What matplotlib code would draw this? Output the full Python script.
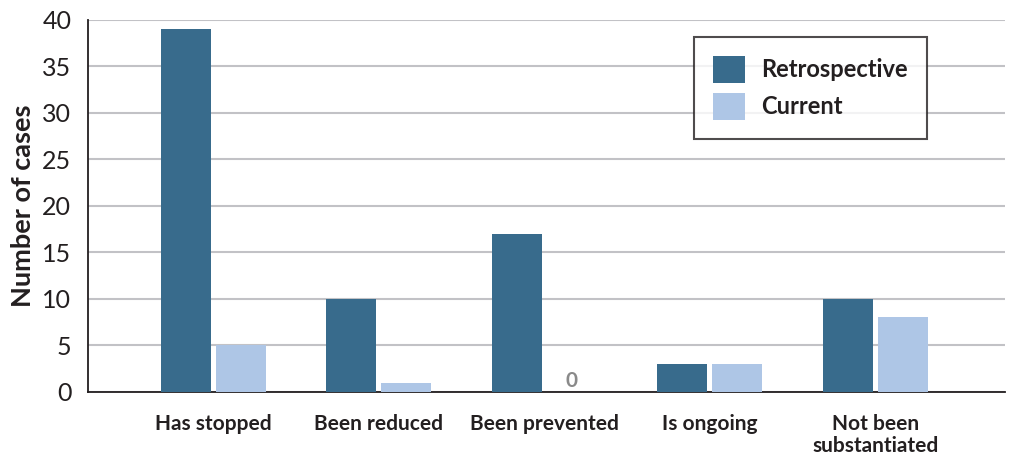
import matplotlib.pyplot as plt
import numpy as np

plt.rcParams['font.family'] = ['Lato', 'DejaVu Sans']

categories = ["Has stopped", "Been reduced", "Been prevented", "Is ongoing", "Not been\nsubstantiated"]
retrospective = [39, 10, 17, 3, 10]
current = [5, 1, 0, 3, 8]
yticks = [0, 5, 10, 15, 20, 25, 30, 35, 40]

retro_color = "#386b8c"
current_color = "#aec6e6"
dark = "#231f20"

fig = plt.figure(figsize=(10.15, 4.59), dpi=100)
ax = fig.add_axes([0.0867, 0.146, 0.903, 0.8115])

x = np.arange(len(categories))
w = 0.302
off = 0.166
ax.bar(x - off, retrospective, w, color=retro_color, label="Retrospective", zorder=3)
ax.bar(x + off, current, w, color=current_color, label="Current", zorder=3)

# zero-valued bar gets a gray value label
for xi, v in zip(x, current):
    if v == 0:
        ax.text(xi + off, 1.2, "0", ha="center", va="center", fontsize=15,
                fontweight="bold", color="#8a8a8a")

ax.set_xlim(-0.758, 4.78)
ax.set_ylim(0, 40)
ax.set_yticks(yticks)
ax.set_xticks(x)
ax.set_xticklabels(categories, fontsize=15, fontweight="bold", color=dark, linespacing=1.1)
ax.tick_params(axis="x", length=0, pad=16)
ax.tick_params(axis="y", length=0, pad=12, labelsize=18, labelcolor=dark)
for t in ax.get_xticklabels():
    t.set_verticalalignment("top")

ax.yaxis.grid(True, color="#c2c2c6", linewidth=1.5, zorder=0)
ax.set_axisbelow(True)
for s in ["top", "right"]:
    ax.spines[s].set_visible(False)
ax.spines["left"].set_color(dark)
ax.spines["bottom"].set_color(dark)
ax.spines["left"].set_linewidth(1.3)
ax.spines["bottom"].set_linewidth(1.3)

ax.set_ylabel("Number of cases", fontsize=19.5, fontweight="bold", color=dark, labelpad=5)

leg = ax.legend(loc="upper left", bbox_to_anchor=(0.661, 0.953), frameon=True,
                fancybox=False, edgecolor=dark,
                prop={"weight": "bold", "size": 17}, handlelength=1.35, handleheight=1.4,
                borderpad=0.8, labelspacing=0.4, handletextpad=0.7, borderaxespad=0)
leg.get_frame().set_linewidth(1.5)
for t in leg.get_texts():
    t.set_color(dark)

fig.savefig("out.png", dpi=100)
